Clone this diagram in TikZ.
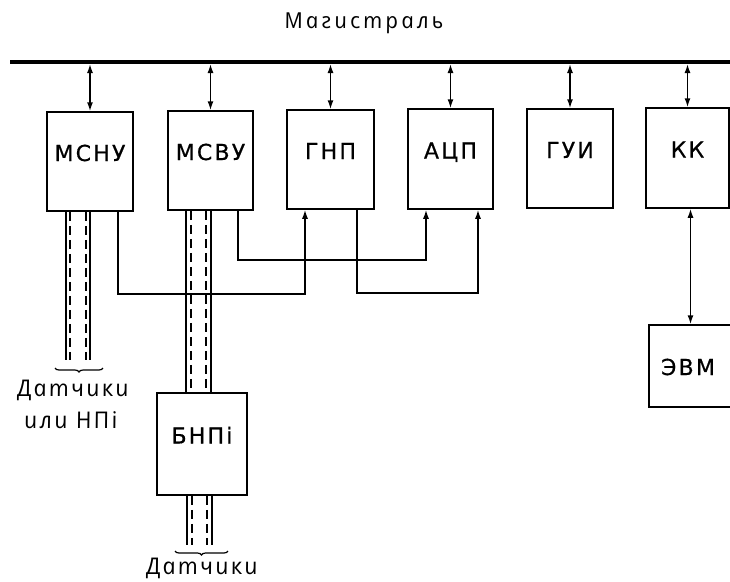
\documentclass[tikz,border=0pt]{standalone}
\usepackage{fontspec}
\setmainfont{DejaVu Sans}
\newfontfamily\boxfont{DejaVu Sans}[LetterSpace=10,FakeBold=0.6]
\newfontfamily\curfont{Open Sans}[LetterSpace=10,ItalicFeatures={FakeSlant=-0.2}]
\newfontfamily\titfont{Open Sans}[LetterSpace=14,ItalicFeatures={FakeSlant=-0.2}]
\usetikzlibrary{arrows.meta,decorations.pathreplacing}
\begin{document}
\begin{tikzpicture}[x=1pt,y=-1pt,>={Latex[length=9pt,width=6pt]},
  blk/.style={draw,line width=1.5pt,inner sep=0pt,
    font=\boxfont\fontsize{22}{26}\selectfont,text height=16pt,text depth=17pt},
  conn/.style={line width=1.5pt},
  solidline/.style={line width=1.8pt},
  dashline/.style={line width=1.4pt,dash pattern=on 9pt off 5pt},
  curtext/.style={font=\curfont\itshape\fontsize{23}{26}\selectfont,anchor=base,inner sep=0pt},
  brc/.style={decorate,decoration={brace,mirror,amplitude=4pt},line width=1.2pt}]
\useasboundingbox (0,0) rectangle (730,581);

% title
\node[font=\titfont\itshape\fontsize{22}{26}\selectfont,anchor=base,inner sep=0pt] (title) at (365,28) {Магистраль};

% bus
\coordinate (busL) at (10,62);
\coordinate (busR) at (740,62);
\draw[line width=4pt] (busL) -- (busR);

% blocks
\node[blk,minimum width=86pt,minimum height=99pt] (mcnu) at (90,161.5) {МСНУ};
\node[blk,minimum width=85pt,minimum height=99pt] (mcvu) at (210.5,160.5) {МСВУ};
\node[blk,minimum width=87pt,minimum height=99pt] (gnp) at (330.5,159.5) {ГНП};
\node[blk,minimum width=85pt,minimum height=100pt] (acp) at (450.5,159) {АЦП};
\node[blk,minimum width=86pt,minimum height=99pt] (gui) at (570,158.5) {ГУИ};
\node[blk,minimum width=83pt,minimum height=100pt] (kk) at (687.5,158) {КК};
\node[blk,minimum width=86pt,minimum height=82pt,text depth=0pt] (evm) at (692,366) {};
\node[font=\boxfont\fontsize{22}{26}\selectfont,inner sep=0pt] (evml) at (688,367) {ЭВМ};
\node[blk,minimum width=90pt,minimum height=102pt] (bnpi) at (202,444) {БНПi};

% bus connectors
\foreach \b in {mcnu,mcvu,gnp,acp,gui,kk}
  \draw[conn,<->,shorten <=2pt] (\b.north |- busL) -- (\b.north);

% KK - EVM
\draw[conn,<->] ([xshift=3pt]kk.south) -- ([xshift=3pt]kk.south |- evm.north);

% signal lines
\draw[conn,->] ([xshift=28pt]mcnu.south) -- ++(0,82) -| ([xshift=-25.5pt]gnp.south);
\draw[conn,->] ([xshift=27.5pt]mcvu.south) -- ++(0,49) -| ([xshift=-24.5pt]acp.south);
\draw[conn,->] ([xshift=26.5pt]gnp.south) -- ++(0,83) -| ([xshift=27.5pt]acp.south);

% cable bundle under MCNU
\coordinate (e1) at (0,360);
\draw[solidline] ([xshift=-24pt]mcnu.south) -- ([xshift=-24pt]mcnu.south |- e1);
\draw[solidline] (mcnu.south) -- (mcnu.south |- e1);
\draw[dashline] ([xshift=-20pt]mcnu.south) -- ([xshift=-20pt]mcnu.south |- e1);
\draw[dashline] ([xshift=-4pt]mcnu.south) -- ([xshift=-4pt]mcnu.south |- e1);

% cable bundle MCVU - BNPi
\draw[solidline] ([xshift=-24.5pt]mcvu.south) -- ([xshift=-24.5pt]mcvu.south |- bnpi.north);
\draw[solidline] ([xshift=0.5pt]mcvu.south) -- ([xshift=0.5pt]mcvu.south |- bnpi.north);
\draw[dashline] ([xshift=-19.5pt]mcvu.south) -- ([xshift=-19.5pt]mcvu.south |- bnpi.north);
\draw[dashline] ([xshift=-4.5pt]mcvu.south) -- ([xshift=-4.5pt]mcvu.south |- bnpi.north);

% cable bundle below BNPi
\coordinate (e2) at (0,545);
\draw[solidline] ([xshift=-15pt]bnpi.south) -- ([xshift=-15pt]bnpi.south |- e2);
\draw[solidline] ([xshift=10pt]bnpi.south) -- ([xshift=10pt]bnpi.south |- e2);
\draw[dashline] ([xshift=-10pt]bnpi.south) -- ([xshift=-10pt]bnpi.south |- e2);
\draw[dashline] ([xshift=5pt]bnpi.south) -- ([xshift=5pt]bnpi.south |- e2);

% braces
\coordinate (b1l) at (55,368);
\coordinate (b1r) at (103,368);
\draw[brc] (b1l) -- (b1r);
\coordinate (b2l) at (175,551);
\coordinate (b2r) at (228,551);
\draw[brc] (b2l) -- (b2r);

% labels
\node[curtext] (d1) at (74,396) {Датчики};
\node[curtext] (d1b) at (72,428) {или НПi};
\node[curtext] (d2) at (203,574) {Датчики};
\end{tikzpicture}
\end{document}
